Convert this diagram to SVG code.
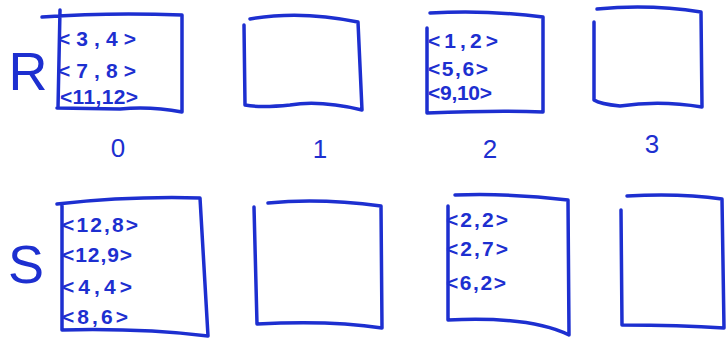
<svg xmlns="http://www.w3.org/2000/svg" width="727" height="340" viewBox="0 0 727 340">
<style>
.box{fill:none;stroke:#1d2fd0;stroke-width:3.5;stroke-linecap:round;stroke-linejoin:round}
.t{font-family:"Liberation Sans",Arial,sans-serif;font-size:21px;font-weight:bold;fill:#1d2fd0}
.n{font-family:"Liberation Sans",Arial,sans-serif;font-size:26px;fill:#1d2fd0;text-anchor:middle}
.big{font-family:"Liberation Sans",Arial,sans-serif;font-size:54px;fill:#1d2fd0;text-anchor:middle}
</style>
<rect width="727" height="340" fill="#ffffff"/>
<text class="big" x="28" y="90">R</text>
<text class="big" x="26" y="283">S</text>
<g id="R0">
<path class="box" d="M42,17 Q110,12 182,15 L182,112 Q150,106 120,109 L57,108 M60,10 L58,108"/>
<text class="t" x="58" y="46" textLength="78">&lt;3,4&gt;</text>
<text class="t" x="58" y="78" textLength="78">&lt;7,8&gt;</text>
<text class="t" x="60" y="104" textLength="78">&lt;11,12&gt;</text>
</g>
<g id="R1">
<path class="box" d="M250,19 Q300,10 358,22 L362,110 Q320,100 290,105 Q260,108 245,105 L244,25"/>
</g>
<g id="R2">
<path class="box" d="M430,13 Q490,10 543,17 L543,112 Q500,110 427,113 L427,28"/>
<text class="t" x="428" y="48" textLength="70">&lt;1,2&gt;</text>
<text class="t" x="428" y="76" textLength="60">&lt;5,6&gt;</text>
<text class="t" x="428" y="100" textLength="64">&lt;9,10&gt;</text>
</g>
<g id="R3">
<path class="box" d="M597,9 Q650,4 701,12 L702,107 Q660,100 620,106 Q600,104 594,100 L594,22"/>
</g>
<g id="S0">
<path class="box" d="M57,204 Q130,196 200,198 L208,336 Q140,328 62,330 L62,205"/>
<text class="t" x="62" y="232" textLength="76">&lt;12,8&gt;</text>
<text class="t" x="62" y="262" textLength="70">&lt;12,9&gt;</text>
<text class="t" x="62" y="294" textLength="70">&lt;4,4&gt;</text>
<text class="t" x="62" y="324" textLength="66">&lt;8,6&gt;</text>
</g>
<g id="S1">
<path class="box" d="M268,203 Q320,198 381,206 L382,328 Q330,320 257,324 L254,207"/>
</g>
<g id="S2">
<path class="box" d="M455,195 Q510,193 568,200 L569,335 Q530,316 448,320 L448,206"/>
<text class="t" x="446" y="227" textLength="62">&lt;2,2&gt;</text>
<text class="t" x="446" y="256" textLength="62">&lt;2,7&gt;</text>
<text class="t" x="446" y="290" textLength="60">&lt;6,2&gt;</text>
</g>
<g id="S3">
<path class="box" d="M627,196 Q680,193 722,199 L724,328 Q680,325 622,325 L621,210"/>
</g>
<g id="connectors"></g>
<text class="n" x="118" y="157">0</text>
<text class="n" x="320" y="158">1</text>
<text class="n" x="490" y="158">2</text>
<text class="n" x="652" y="153">3</text>
</svg>
